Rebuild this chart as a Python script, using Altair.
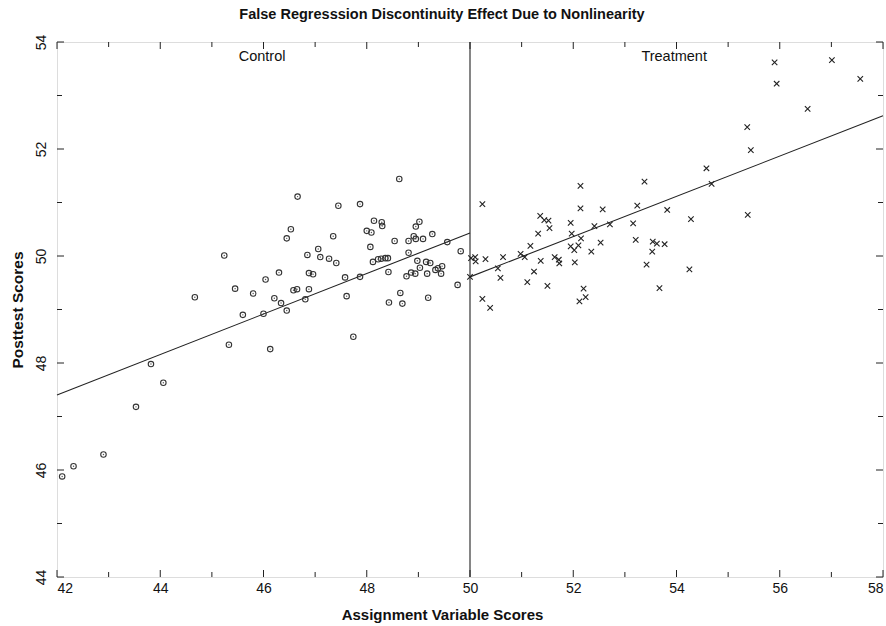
import altair as alt
import pandas as pd

# ---- data ----
control_x = [42.10, 42.32, 42.90, 43.53, 43.82, 44.06, 44.67, 45.24, 45.33, 45.45,
             45.60, 45.80, 46.00, 46.04, 46.13, 46.21, 46.30, 46.34, 46.45, 46.45,
             46.53, 46.58, 46.65, 46.66, 46.88, 46.81, 46.85, 47.06, 47.10, 47.27,
             47.41, 46.88, 46.96, 47.35, 47.45, 47.87, 47.58, 47.61, 47.74, 47.87,
             48.00, 48.09, 48.14, 48.07, 48.29, 48.30, 48.12, 48.22, 48.28, 48.36,
             48.41, 48.42, 48.43, 48.54, 48.63, 48.65, 48.69, 48.81, 48.81, 48.91,
             48.95, 48.95, 49.02, 49.09, 49.27, 48.98, 49.03, 48.77, 48.86, 48.94,
             49.15, 49.23, 49.17, 49.33, 49.38, 49.46, 49.44, 49.19, 49.56, 49.76,
             49.82]
control_y = [45.88, 46.07, 46.29, 47.18, 47.98, 47.63, 49.23, 50.01, 48.34, 49.39,
             48.90, 49.30, 48.92, 49.56, 48.26, 49.21, 49.69, 49.12, 48.98, 50.33,
             50.50, 49.36, 49.38, 51.11, 49.38, 49.19, 50.02, 50.13, 49.98, 49.95,
             49.87, 49.68, 49.66, 50.37, 50.94, 50.97, 49.60, 49.25, 48.49, 49.61,
             50.47, 50.44, 50.66, 50.17, 50.63, 50.56, 49.89, 49.94, 49.95, 49.96,
             49.96, 49.70, 49.13, 50.28, 51.44, 49.31, 49.11, 50.28, 50.06, 50.37,
             50.32, 50.55, 50.64, 50.32, 50.41, 49.91, 49.78, 49.62, 49.69, 49.67,
             49.89, 49.87, 49.67, 49.74, 49.77, 49.81, 49.67, 49.22, 50.26, 49.46,
             50.09]

treat_x = [50.02, 50.10, 50.11, 50.30, 50.00, 50.24, 50.24, 50.39, 50.54, 50.59,
           50.64, 50.98, 51.06, 51.11, 51.17, 51.24, 51.32, 51.36, 51.44, 51.52,
           51.54, 51.37, 51.50, 51.64, 51.72, 51.73, 51.95, 51.97, 51.95, 52.02,
           52.10, 52.03, 52.14, 52.14, 52.15, 52.20, 52.24, 52.12, 52.35, 52.41,
           52.53, 52.57, 52.71, 53.16, 53.24, 53.21, 53.38, 53.42, 53.54, 53.62,
           53.77, 53.53, 53.67, 53.82, 54.28, 54.25, 54.58, 54.68, 55.37, 55.44,
           55.38, 55.90, 55.94, 56.54, 57.01, 57.56]
treat_y = [49.96, 49.98, 49.90, 49.94, 49.61, 50.97, 49.20, 49.03, 49.77, 49.59,
           49.98, 50.04, 49.98, 49.51, 50.19, 49.71, 50.42, 50.75, 50.67, 50.66,
           50.52, 49.91, 49.44, 49.98, 49.93, 49.86, 50.62, 50.42, 50.18, 50.11,
           50.20, 49.88, 51.31, 50.89, 50.33, 49.39, 49.23, 49.15, 50.08, 50.56,
           50.25, 50.87, 50.59, 50.61, 50.94, 50.30, 51.39, 49.84, 50.27, 50.23,
           50.22, 50.08, 49.40, 50.86, 50.69, 49.75, 51.64, 51.35, 52.41, 51.98,
           50.77, 53.62, 53.22, 52.75, 53.66, 53.31]

# fitted lines (end points)
line_group = ["Control", "Control", "Treatment", "Treatment"]
line_x = [42.0, 50.0, 50.0, 58.0]
line_y = [47.40, 50.43, 49.61, 52.62]

cutoff = [50.0]

label_text = ["Control", "Treatment"]
label_x = [45.52, 53.32]
label_y = [53.72, 53.72]

x_major = [42, 44, 46, 48, 50, 52, 54, 56, 58]
x_minor = [43, 45, 47, 49, 51, 53, 55, 57]
y_major = [44, 46, 48, 50, 52, 54]
y_minor = [45, 47, 49, 51, 53]

# ---- chart ----
W, H = 826, 535
FONT = "Liberation Sans"

xs = alt.Scale(domain=[42, 58], nice=False, zero=False)
ys = alt.Scale(domain=[44, 54], nice=False, zero=False)

x_axis = alt.Axis(values=x_major, format="d", ticks=False, domain=False, grid=False,
                  labelFontSize=14, labelPadding=4, labelFont=FONT, labelColor="#111",
                  title="Assignment Variable Scores", titleFont=FONT, titleFontSize=15,
                  titleFontWeight="bold", titleX=385, titleY=30, titleAlign="center",
                  titleBaseline="top", titleColor="#111")
y_axis = alt.Axis(values=y_major, format="d", ticks=False, domain=False, grid=False,
                  labelFontSize=14, labelPadding=9, labelFont=FONT, labelAngle=270,
                  labelAlign="center", labelBaseline="bottom", labelColor="#111",
                  title="Posttest Scores", titleFont=FONT, titleFontSize=15.5,
                  titleFontWeight="bold", titleX=-32, titleY=H / 2, titleAlign="center",
                  titleBaseline="bottom", titleAngle=270, titleColor="#111")


def X(f="x"):
    return alt.X(f"{f}:Q", scale=xs, axis=x_axis)


def Y(f="y"):
    return alt.Y(f"{f}:Q", scale=ys, axis=y_axis)


control_df = pd.DataFrame({"x": control_x, "y": control_y})
treat_df = pd.DataFrame({"x": treat_x, "y": treat_y})
line_df = pd.DataFrame({"g": line_group, "x": line_x, "y": line_y})
cut_df = pd.DataFrame({"x": cutoff})
lab_df = pd.DataFrame({"t": label_text, "x": label_x, "y": label_y})

control = alt.Chart(control_df).mark_point(
    shape="circle", size=30, filled=False, stroke="#333", strokeWidth=1.1, opacity=1
).encode(x=X(), y=Y())
control_dot = alt.Chart(control_df).mark_point(
    shape="circle", size=2, filled=True, fill="#555", opacity=1
).encode(x=X(), y=Y())

treat = alt.Chart(treat_df).mark_point(
    shape="M-1,-1L1,1M-1,1L1,-1", size=30, filled=False, stroke="#222",
    strokeWidth=1.1, opacity=1
).encode(x=X(), y=Y())

lines = alt.Chart(line_df).mark_line(color="#222", strokeWidth=1.1).encode(
    x=X(), y=Y(), detail="g:N")

cut = alt.Chart(cut_df).mark_rule(color="#222", strokeWidth=1.1).encode(x=X())

labels = alt.Chart(lab_df).mark_text(
    align="left", baseline="middle", fontSize=14.5, font=FONT, color="#111"
).encode(x=X(), y=Y(), text="t:N")


def xticks(vals, length):
    df = pd.DataFrame({"x": vals})
    bottom = alt.Chart(df).mark_rule(color="#222", strokeWidth=1).encode(
        x=X(), y=alt.value(H), y2=alt.value(H - length))
    top = alt.Chart(df).mark_rule(color="#222", strokeWidth=1).encode(
        x=X(), y=alt.value(0), y2=alt.value(length))
    return [bottom, top]


def yticks(vals, length):
    df = pd.DataFrame({"y": vals})
    left = alt.Chart(df).mark_rule(color="#222", strokeWidth=1).encode(
        y=Y(), x=alt.value(0), x2=alt.value(length))
    right = alt.Chart(df).mark_rule(color="#222", strokeWidth=1).encode(
        y=Y(), x=alt.value(W), x2=alt.value(W - length))
    return [left, right]


tick_layers = xticks(x_major, 7) + xticks(x_minor, 5) + yticks(y_major, 7) + yticks(y_minor, 5)

chart = alt.layer(
    cut, lines, control, control_dot, treat, labels, *tick_layers
).properties(
    width=W, height=H,
    title=alt.TitleParams(
        "False Regresssion Discontinuity Effect Due to Nonlinearity",
        font=FONT, fontSize=14.5, fontWeight="bold", anchor="middle", dx=-28,
        offset=12, color="#111"),
    autosize=alt.AutoSizeParams(type="none"),
    padding={"left": 57, "top": 42, "right": 3, "bottom": 49},
).configure_view(
    stroke="#222", strokeWidth=1.3
).configure(background="white")

chart.save("out.html", embed_options={"renderer": "svg", "actions": False})
